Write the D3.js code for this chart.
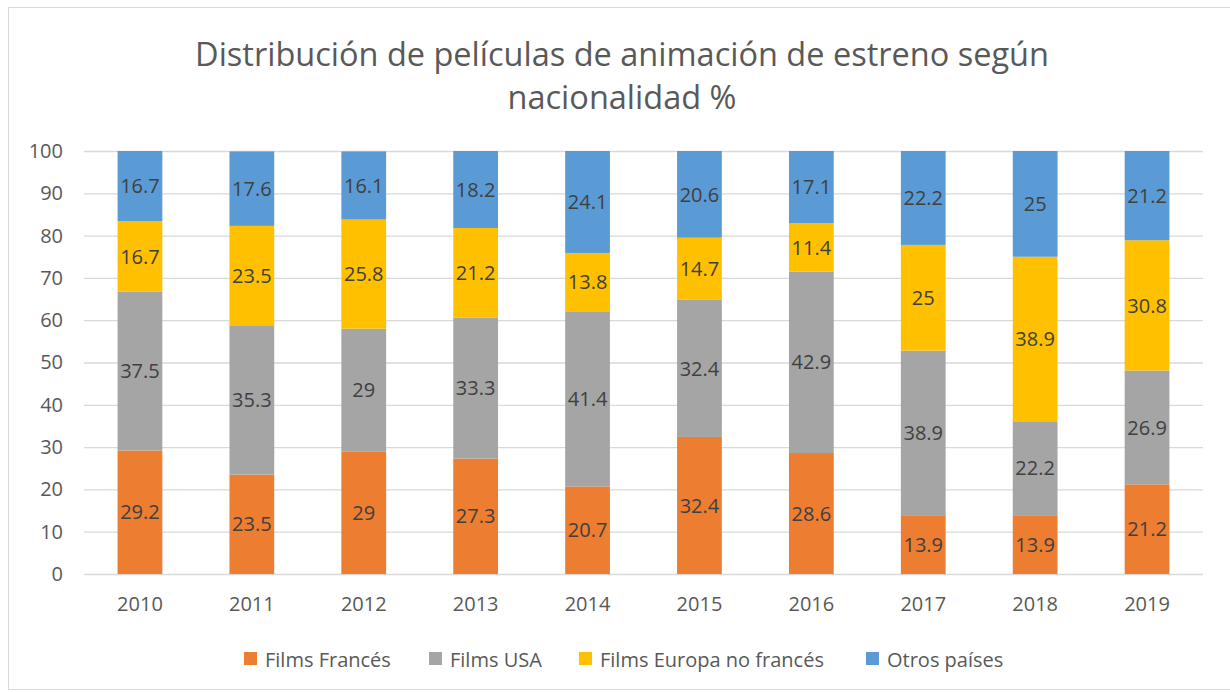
<!DOCTYPE html>
<html><head><meta charset="utf-8">
<script src="https://cdn.jsdelivr.net/npm/d3@7"></script>
<style>body{margin:0;background:#fff;} svg{display:block;}</style>
</head><body>
<svg id="c" width="1230" height="692"></svg>
<script>
const years = ["2010","2011","2012","2013","2014","2015","2016","2017","2018","2019"];
const seriesNames = ["Films Francés","Films USA","Films Europa no francés","Otros países"];
const francés = [29.2,23.5,29,27.3,20.7,32.4,28.6,13.9,13.9,21.2];
const usa = [37.5,35.3,29,33.3,41.4,32.4,42.9,38.9,22.2,26.9];
const europa = [16.7,23.5,25.8,21.2,13.8,14.7,11.4,25,38.9,30.8];
const otros = [16.7,17.6,16.1,18.2,24.1,20.6,17.1,22.2,25,21.2];
const yTicks = [0,10,20,30,40,50,60,70,80,90,100];
const colors = ["#ED7D31","#A5A5A5","#FFC000","#5B9BD5"];
const titleLines = ["Distribución de películas de animación de estreno según","nacionalidad %"];

const svg = d3.select("#c");
const font = "'Open Sans', sans-serif";
const txt = "#595959";

// chart frame
svg.append("rect").attr("x",8.5).attr("y",7.5).attr("width",1230).attr("height",682)
  .attr("fill","none").attr("stroke","#D9D9D9").attr("stroke-width",1);

const x = d3.scaleBand().domain(years).range([84,1203]).paddingInner(0.6).paddingOuter(0.3);
const y = d3.scaleLinear().domain([0,100]).range([574,151]);

// gridlines
svg.append("g").selectAll("line").data(yTicks).join("line")
  .attr("x1",84).attr("x2",1203).attr("y1",d=>y(d)+0.5).attr("y2",d=>y(d)+0.5)
  .attr("stroke","#D9D9D9").attr("stroke-width",1.3);

// y axis labels
const yAxis = svg.append("g").attr("transform","translate(63,0)")
  .call(d3.axisLeft(y).tickValues(yTicks).tickSize(0).tickPadding(0));
yAxis.select(".domain").remove();
yAxis.selectAll("text").attr("font-family",font).attr("font-size",20).attr("fill",txt);

// x axis labels
const xAxis = svg.append("g").attr("transform","translate(0,574)")
  .call(d3.axisBottom(x).tickSize(0).tickPadding(23));
xAxis.select(".domain").remove();
xAxis.selectAll("text").attr("font-family",font).attr("font-size",20).attr("fill",txt);

// stacked data
const rows = years.map((yr,i)=>({year:yr, s0:francés[i], s1:usa[i], s2:europa[i], s3:otros[i]}));
const keys = ["s0","s1","s2","s3"];
const stack = d3.stack().keys(keys)(rows);

const layers = svg.append("g").selectAll("g").data(stack).join("g").attr("fill",(d,i)=>colors[i]);
layers.selectAll("rect").data(d=>d).join("rect")
  .attr("x",d=>x(d.data.year)).attr("width",x.bandwidth())
  .attr("y",d=>y(Math.min(d[1],100))).attr("height",d=>y(d[0])-y(Math.min(d[1],100)));

// labels
const lab = svg.append("g");
stack.forEach((layer)=>{
  layer.forEach(d=>{
    const v = d.data[layer.key];
    lab.append("text").attr("x",x(d.data.year)+x.bandwidth()/2)
      .attr("y",(y(d[0])+y(Math.min(d[1],100)))/2)
      .attr("dy","0.36em").attr("text-anchor","middle")
      .attr("font-family",font).attr("font-size",20).attr("fill","#404040").text(v);
  });
});

// title
svg.append("g").selectAll("text").data(titleLines).join("text")
  .attr("x",622).attr("y",(d,i)=>66+i*43).attr("text-anchor","middle")
  .attr("font-family",font).attr("font-size",32.5).attr("fill",txt).text(d=>d);

// legend
const legendX = [244,429,579,866];
const leg = svg.append("g").selectAll("g").data(seriesNames).join("g")
  .attr("transform",(d,i)=>`translate(${legendX[i]},652)`);
leg.append("rect").attr("width",13).attr("height",13).attr("fill",(d,i)=>colors[i]);
leg.append("text").attr("x",21).attr("y",15)
  .attr("font-family",font).attr("font-size",20).attr("fill",txt).text(d=>d);
</script>
</body></html>
